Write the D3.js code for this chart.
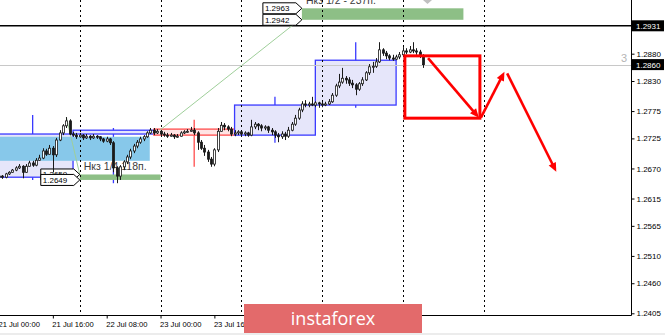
<!DOCTYPE html>
<html>
<head>
<meta charset="utf-8">
<script src="https://cdn.jsdelivr.net/npm/d3@7"></script>
<style>
  body { margin: 0; background: #fff; }
  svg { display: block; font-family: "Liberation Sans", Arial, sans-serif; }
</style>
</head>
<body>
<div id="chart"></div>
<script>
// H1 bars from 21 Jul 00:00 (index = hour), [open, high, low, close]
const ohlc = [
  [1.2654, 1.2658, 1.2651, 1.2656], [1.2656, 1.2658, 1.2651, 1.2654],
  [1.2654, 1.2662, 1.2652, 1.2660], [1.2660, 1.2665, 1.2658, 1.2663],
  [1.2663, 1.2669, 1.2662, 1.2667], [1.2667, 1.2674, 1.2665, 1.2671],
  [1.2671, 1.2678, 1.2669, 1.2674], [1.2674, 1.2676, 1.2652, 1.2663],
  [1.2663, 1.2678, 1.2662, 1.2674], [1.2674, 1.2684, 1.2673, 1.2680],
  [1.2680, 1.2684, 1.2673, 1.2676], [1.2676, 1.2689, 1.2674, 1.2685],
  [1.2685, 1.2695, 1.2684, 1.2689], [1.2689, 1.2707, 1.2687, 1.2702],
  [1.2702, 1.2706, 1.2693, 1.2696], [1.2696, 1.2713, 1.2695, 1.2707],
  [1.2707, 1.2711, 1.2663, 1.2695], [1.2695, 1.2726, 1.2691, 1.2722],
  [1.2722, 1.2740, 1.2720, 1.2735], [1.2735, 1.2751, 1.2731, 1.2748],
  [1.2748, 1.2764, 1.2744, 1.2757], [1.2757, 1.2760, 1.2731, 1.2733],
  [1.2733, 1.2737, 1.2728, 1.2731], [1.2731, 1.2735, 1.2724, 1.2728],
  [1.2728, 1.2735, 1.2726, 1.2731], [1.2731, 1.2733, 1.2722, 1.2726],
  [1.2726, 1.2733, 1.2724, 1.2729], [1.2729, 1.2731, 1.2722, 1.2726],
  [1.2726, 1.2733, 1.2724, 1.2729], [1.2729, 1.2731, 1.2724, 1.2728],
  [1.2728, 1.2729, 1.2720, 1.2724], [1.2724, 1.2726, 1.2717, 1.2720],
  [1.2720, 1.2728, 1.2718, 1.2724], [1.2724, 1.2726, 1.2713, 1.2717],
  [1.2717, 1.2720, 1.2663, 1.2671], [1.2671, 1.2674, 1.2643, 1.2656],
  [1.2656, 1.2676, 1.2649, 1.2673], [1.2673, 1.2685, 1.2667, 1.2682],
  [1.2682, 1.2695, 1.2678, 1.2691], [1.2691, 1.2706, 1.2687, 1.2702],
  [1.2702, 1.2715, 1.2698, 1.2711], [1.2711, 1.2722, 1.2707, 1.2718],
  [1.2718, 1.2728, 1.2715, 1.2724], [1.2724, 1.2731, 1.2720, 1.2728],
  [1.2728, 1.2738, 1.2726, 1.2735], [1.2735, 1.2744, 1.2733, 1.2740],
  [1.2740, 1.2744, 1.2731, 1.2735], [1.2735, 1.2742, 1.2733, 1.2738],
  [1.2738, 1.2740, 1.2729, 1.2733], [1.2733, 1.2737, 1.2728, 1.2731],
  [1.2731, 1.2735, 1.2726, 1.2729], [1.2729, 1.2735, 1.2728, 1.2731],
  [1.2731, 1.2733, 1.2724, 1.2728], [1.2728, 1.2733, 1.2726, 1.2729],
  [1.2729, 1.2738, 1.2728, 1.2735], [1.2735, 1.2740, 1.2733, 1.2737],
  [1.2737, 1.2742, 1.2735, 1.2738], [1.2738, 1.2746, 1.2737, 1.2740],
  [1.2740, 1.2744, 1.2731, 1.2735], [1.2735, 1.2738, 1.2704, 1.2718],
  [1.2718, 1.2722, 1.2704, 1.2707], [1.2707, 1.2713, 1.2693, 1.2700],
  [1.2700, 1.2704, 1.2682, 1.2687], [1.2687, 1.2691, 1.2673, 1.2678],
  [1.2678, 1.2707, 1.2674, 1.2704], [1.2704, 1.2744, 1.2700, 1.2738],
  [1.2738, 1.2755, 1.2737, 1.2749], [1.2749, 1.2753, 1.2740, 1.2746],
  [1.2746, 1.2749, 1.2738, 1.2742], [1.2742, 1.2746, 1.2729, 1.2733],
  [1.2733, 1.2740, 1.2729, 1.2735], [1.2735, 1.2740, 1.2731, 1.2737],
  [1.2737, 1.2738, 1.2728, 1.2733], [1.2733, 1.2738, 1.2729, 1.2735],
  [1.2735, 1.2737, 1.2728, 1.2731], [1.2731, 1.2759, 1.2729, 1.2746],
  [1.2746, 1.2755, 1.2742, 1.2751], [1.2751, 1.2753, 1.2740, 1.2748],
  [1.2748, 1.2751, 1.2738, 1.2744], [1.2744, 1.2749, 1.2740, 1.2746],
  [1.2746, 1.2748, 1.2735, 1.2740], [1.2740, 1.2744, 1.2731, 1.2737],
  [1.2737, 1.2740, 1.2726, 1.2731], [1.2731, 1.2735, 1.2718, 1.2728],
  [1.2728, 1.2738, 1.2724, 1.2733], [1.2733, 1.2737, 1.2722, 1.2729],
  [1.2729, 1.2746, 1.2726, 1.2740], [1.2740, 1.2755, 1.2738, 1.2751],
  [1.2751, 1.2768, 1.2748, 1.2762], [1.2762, 1.2781, 1.2759, 1.2777],
  [1.2777, 1.2793, 1.2773, 1.2788], [1.2788, 1.2795, 1.2782, 1.2786],
  [1.2786, 1.2792, 1.2782, 1.2788], [1.2788, 1.2801, 1.2784, 1.2786],
  [1.2786, 1.2793, 1.2782, 1.2790], [1.2790, 1.2792, 1.2781, 1.2788],
  [1.2788, 1.2792, 1.2782, 1.2786], [1.2786, 1.2792, 1.2784, 1.2788],
  [1.2788, 1.2797, 1.2786, 1.2792], [1.2792, 1.2808, 1.2790, 1.2804],
  [1.2804, 1.2825, 1.2801, 1.2821], [1.2821, 1.2843, 1.2817, 1.2828],
  [1.2828, 1.2854, 1.2825, 1.2835], [1.2835, 1.2839, 1.2825, 1.2832],
  [1.2832, 1.2837, 1.2821, 1.2826], [1.2826, 1.2832, 1.2817, 1.2823],
  [1.2823, 1.2826, 1.2804, 1.2815], [1.2815, 1.2828, 1.2812, 1.2825],
  [1.2825, 1.2837, 1.2821, 1.2832], [1.2832, 1.2848, 1.2830, 1.2845],
  [1.2845, 1.2861, 1.2841, 1.2856], [1.2856, 1.2865, 1.2845, 1.2857],
  [1.2857, 1.2872, 1.2854, 1.2865], [1.2865, 1.2901, 1.2863, 1.2887],
  [1.2887, 1.2890, 1.2876, 1.2881], [1.2881, 1.2885, 1.2870, 1.2876],
  [1.2876, 1.2879, 1.2868, 1.2872], [1.2872, 1.2878, 1.2867, 1.2870],
  [1.2870, 1.2878, 1.2868, 1.2874], [1.2874, 1.2883, 1.2870, 1.2878],
  [1.2878, 1.2892, 1.2876, 1.2885], [1.2885, 1.2890, 1.2879, 1.2883],
  [1.2883, 1.2894, 1.2881, 1.2887], [1.2887, 1.2901, 1.2881, 1.2885],
  [1.2885, 1.2890, 1.2878, 1.2883], [1.2883, 1.2887, 1.2872, 1.2876],
  [1.2876, 1.2879, 1.2854, 1.2860]
];

// daily boxes (day starts at 22:00 the evening before): [startHour, open, high, low, close]
const dailyBars = [
  [-2, 1.2654, 1.2768, 1.2649, 1.2733],
  [22, 1.2733, 1.2744, 1.2643, 1.2740],
  [46, 1.2742, 1.2759, 1.2673, 1.2731],
  [70, 1.2731, 1.2801, 1.2717, 1.2786],
  [94, 1.2786, 1.2901, 1.2781, 1.2868]
];

// later time labels sit under the watermark and are not visible
const timeTicks = [0, 16, 32, 48, 64];
const timeLabels = ["21 Jul 00:00", "21 Jul 16:00", "22 Jul 08:00", "23 Jul 00:00", "23 Jul 16:00"];
const daySeparators = [24, 48, 72, 96, 120, 144];

const priceTicks = [1.2880, 1.2830, 1.2775, 1.2725, 1.2670, 1.2615, 1.2565, 1.2510, 1.2460, 1.2405];
const levelLine = 1.2931;
const lastPrice = 1.2860;

// zones: [fromHour, toHour, upper, lower]
const blueZone = [-6, 44.8, 1.2728, 1.2684];
const greenZones = [[24, 48, 1.2659, 1.2649], [90, 138, 1.2963, 1.2942]];
const zoneTexts = ["Нкз 1/4 118п.", "Нкз 1/2 - 237п."];
// thin trend lines: [hour1, price1, hour2, price2]
const trendLines = [[20, 1.2764, 24, 1.2659], [47.8, 1.2740, 89.3, 1.2942]];

// forecast drawing
const forecastBox = [120.6, 142.9, 1.2876, 1.2762];
const forecastArrows = [
  [127.5, 1.2872, 142.6, 1.2763],
  [143.2, 1.2763, 150.2, 1.2847],
  [151.0, 1.2844, 165.6, 1.2664]
];

const W = 665, H = 335;
const plotW = 631, plotH = 315;

const x = d3.scaleLinear().domain([0, 187.8]).range([-1, plotW]);
const y = d3.scaleLinear().domain([1.24019, 1.29782]).range([plotH, 0]);

function drawChart() {
    const svg = d3.select("#chart").append("svg")
        .attr("width", W)
        .attr("height", H);

    svg.append("rect").attr("width", W).attr("height", H).attr("fill", "#fff");

    svg.append("defs").append("clipPath").attr("id", "plotClip")
        .append("rect").attr("width", plotW).attr("height", plotH);

    const g = svg.append("g").attr("clip-path", "url(#plotClip)");

    // daily boxes
    const boxes = g.append("g").selectAll("g").data(dailyBars).join("g");
    boxes.append("rect")
        .attr("x", d => x(d[0]))
        .attr("width", d => x(d[0] + 24) - x(d[0]))
        .attr("y", d => y(Math.max(d[1], d[4])))
        .attr("height", d => y(Math.min(d[1], d[4])) - y(Math.max(d[1], d[4])))
        .attr("fill", d => d[4] >= d[1] ? "#e6e6fa" : "#ffe4e4")
        .attr("stroke", d => d[4] >= d[1] ? "#3a3aff" : "#ff4d4d")
        .attr("stroke-width", 1.3);

    // blue zone
    g.append("rect")
        .attr("x", x(blueZone[0]))
        .attr("width", x(blueZone[1]) - x(blueZone[0]))
        .attr("y", y(blueZone[2]))
        .attr("height", y(blueZone[3]) - y(blueZone[2]))
        .attr("fill", "#87c8ea");

    // whiskers of the daily boxes
    boxes.append("line")
        .attr("x1", d => x(d[0] + 12)).attr("x2", d => x(d[0] + 12))
        .attr("y1", d => y(d[2])).attr("y2", d => y(Math.max(d[1], d[4])))
        .attr("stroke", d => d[4] >= d[1] ? "#3a3aff" : "#ff4d4d").attr("stroke-width", 1.3);
    boxes.append("line")
        .attr("x1", d => x(d[0] + 12)).attr("x2", d => x(d[0] + 12))
        .attr("y1", d => y(Math.min(d[1], d[4]))).attr("y2", d => y(d[3]))
        .attr("stroke", d => d[4] >= d[1] ? "#3a3aff" : "#ff4d4d").attr("stroke-width", 1.3);

    // green zones with their labels
    g.append("g").selectAll("rect").data(greenZones).join("rect")
        .attr("x", d => x(d[0]))
        .attr("width", d => x(d[1]) - x(d[0]))
        .attr("y", d => y(d[2]))
        .attr("height", d => y(d[3]) - y(d[2]))
        .attr("fill", "#8dbf86");

    g.append("g").selectAll("text").data(greenZones).join("text")
        .attr("x", d => x(d[0]) + 4)
        .attr("y", d => y(d[2]) - 4)
        .attr("font-size", "10.5px")
        .attr("fill", "#3c3c3c")
        .text((d, i) => zoneTexts[i]);

    // day separators
    g.append("g").selectAll("line").data(daySeparators).join("line")
        .attr("x1", d => Math.round(x(d)) + 0.5).attr("x2", d => Math.round(x(d)) + 0.5)
        .attr("y1", 0).attr("y2", plotH)
        .attr("stroke", "#000").attr("stroke-dasharray", "2,3");

    // horizontal level and last price line
    g.append("line")
        .attr("x1", 0).attr("x2", plotW)
        .attr("y1", y(levelLine)).attr("y2", y(levelLine))
        .attr("stroke", "#000").attr("stroke-width", 1.5);
    g.append("line")
        .attr("x1", 0).attr("x2", plotW)
        .attr("y1", Math.round(y(lastPrice)) + 0.5).attr("y2", Math.round(y(lastPrice)) + 0.5)
        .attr("stroke", "#c8c8c8");

    g.append("text")
        .attr("x", 621).attr("y", y(lastPrice) - 3)
        .attr("font-size", "11px").attr("fill", "#b5b5b5")
        .text("3");

    // trend lines
    g.append("g").selectAll("line").data(trendLines).join("line")
        .attr("x1", d => x(d[0])).attr("y1", d => y(d[1]))
        .attr("x2", d => x(d[2])).attr("y2", d => y(d[3]))
        .attr("stroke", "#9fcf9a").attr("stroke-width", 1);

    // left price labels for the green zones
    const priceLabels = [];
    greenZones.forEach(z => {
        priceLabels.push({ hour: z[0], price: z[2] });
        priceLabels.push({ hour: z[0], price: z[3] });
    });
    const labels = g.append("g").selectAll("g").data(priceLabels).join("g")
        .attr("transform", d => `translate(${x(d.hour)},${y(d.price)})`);
    labels.append("path")
        .attr("d", "M-39,-5.5H-6L0,0L-6,5.5H-39Z")
        .attr("fill", "#fff").attr("stroke", "#000").attr("stroke-width", 1);
    labels.append("text")
        .attr("x", -37).attr("y", 3)
        .attr("font-size", "8px").attr("fill", "#000")
        .text(d => d.price.toFixed(4));

    g.append("path")
        .attr("d", "M423,0H432L427.5,4Z")
        .attr("fill", "#c0c0c0");

    // candles
    const candles = g.append("g").selectAll("g").data(ohlc).join("g");
    candles.append("line")
        .attr("x1", (d, i) => Math.round(x(i)) + 0.5)
        .attr("x2", (d, i) => Math.round(x(i)) + 0.5)
        .attr("y1", d => y(d[1]))
        .attr("y2", d => y(d[2]))
        .attr("stroke", "#1a1a1a");
    candles.append("rect")
        .attr("x", (d, i) => Math.round(x(i)) - 0.5)
        .attr("width", 2)
        .attr("y", d => y(Math.max(d[0], d[3])))
        .attr("height", d => Math.max(1, Math.abs(y(d[0]) - y(d[3]))))
        .attr("fill", d => d[3] > d[0] ? "#fff" : "#1a1a1a")
        .attr("stroke", "#1a1a1a")
        .attr("stroke-width", 0.8);

    // forecast box and arrows
    g.append("rect")
        .attr("x", x(forecastBox[0]))
        .attr("width", x(forecastBox[1]) - x(forecastBox[0]))
        .attr("y", y(forecastBox[2]))
        .attr("height", y(forecastBox[3]) - y(forecastBox[2]))
        .attr("fill", "none").attr("stroke", "#ff0000").attr("stroke-width", 3);

    forecastArrows.forEach(a => {
        const x1 = x(a[0]), y1 = y(a[1]), x2 = x(a[2]), y2 = y(a[3]);
        const len = Math.hypot(x2 - x1, y2 - y1);
        const ux = (x2 - x1) / len, uy = (y2 - y1) / len;
        const bx = x2 - ux * 9, by = y2 - uy * 9;
        g.append("line")
            .attr("x1", x1).attr("y1", y1)
            .attr("x2", bx + ux * 2).attr("y2", by + uy * 2)
            .attr("stroke", "#ff0000").attr("stroke-width", 2.6);
        g.append("path")
            .attr("d", `M${x2},${y2}L${bx - uy * 4},${by + ux * 4}L${bx + uy * 4},${by - ux * 4}Z`)
            .attr("fill", "#ff0000");
    });

    // frame
    svg.append("line")
        .attr("x1", plotW + 0.5).attr("x2", plotW + 0.5)
        .attr("y1", 0).attr("y2", plotH + 0.5)
        .attr("stroke", "#000");
    svg.append("line")
        .attr("x1", 0).attr("x2", plotW + 0.5)
        .attr("y1", plotH + 0.5).attr("y2", plotH + 0.5)
        .attr("stroke", "#000");

    // price axis
    const yAxis = svg.append("g")
        .attr("transform", `translate(${plotW + 0.5},0)`)
        .call(d3.axisRight(y).tickValues(priceTicks).tickFormat(d3.format(".4f")).tickSize(3).tickPadding(2));
    yAxis.select(".domain").remove();
    yAxis.selectAll("text").attr("font-size", "8px").attr("font-family", "Liberation Sans, Arial, sans-serif").attr("fill", "#000");

    const marks = svg.append("g").selectAll("g").data([levelLine, lastPrice]).join("g")
        .attr("transform", d => `translate(${plotW + 1},${y(d)})`);
    marks.append("rect")
        .attr("x", 0).attr("y", -5.5).attr("width", 32).attr("height", 11)
        .attr("fill", "#000");
    marks.append("text")
        .attr("x", 4).attr("y", 3)
        .attr("font-size", "8px").attr("fill", "#fff")
        .text(d => d.toFixed(4));

    // time axis
    const xAxis = svg.append("g")
        .attr("transform", `translate(0,${plotH + 0.5})`)
        .call(d3.axisBottom(x).tickValues(timeTicks).tickFormat((d, i) => timeLabels[i]).tickSize(3).tickPadding(3));
    xAxis.select(".domain").remove();
    xAxis.selectAll("text")
        .attr("text-anchor", "start")
        .attr("dx", "-1px")
        .attr("font-size", "7.6px")
        .attr("font-family", "Liberation Sans, Arial, sans-serif")
        .attr("fill", "#000");

    svg.append("rect")
        .attr("x", 0).attr("y", 333).attr("width", W).attr("height", 2)
        .attr("fill", "#ececec");

    // watermark banner
    svg.append("rect")
        .attr("x", 244).attr("y", 304).attr("width", 178).attr("height", 29)
        .attr("fill", "#e36a6b");
    svg.append("text")
        .attr("x", 333).attr("y", 325)
        .attr("text-anchor", "middle")
        .attr("font-family", "Open Sans, sans-serif")
        .attr("font-size", "18px")
        .attr("fill", "#fff")
        .text("instaforex");
}

document.addEventListener("DOMContentLoaded", drawChart);
</script>
</body>
</html>
